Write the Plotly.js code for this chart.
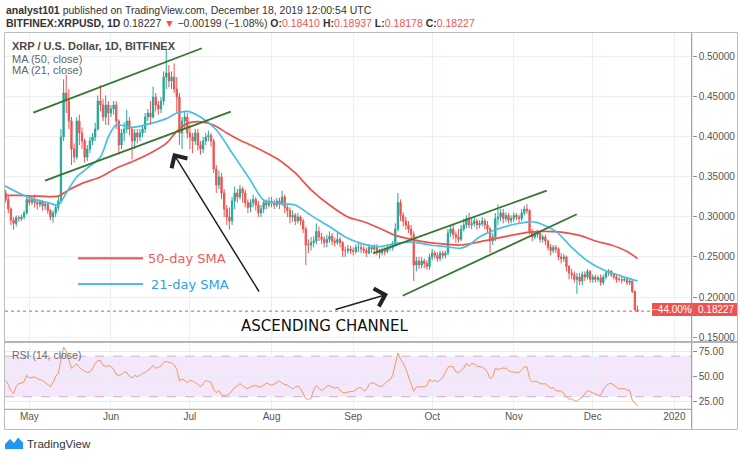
<!DOCTYPE html>
<html><head><meta charset="utf-8">
<script src="https://cdn.plot.ly/plotly-3.0.1.min.js"></script>
<style>html,body{margin:0;padding:0;background:#fff;}#chart{width:740px;height:457px;}</style>
</head><body><div id="chart"></div>
<script>
// ---- data (XRP/USD daily, Bitfinex) ----
const startDate = '2019-04-22';
const opens = [
.330,.322,.310,.296,.292,.299,.298,.300,.305,
.322,.318,.322,.318,.316,.319,.314,.316,.308,.300,
.305,.312,.320,.400,.455,.445,.420,.385,.375,.420,
.405,.395,.375,.385,.395,.400,.410,.445,.440,.425,
.440,.430,.435,.440,.420,.390,.405,.410,.420,.410,
.395,.405,.400,.405,.410,.425,.430,.425,.450,.440,
.435,.445,.475,.480,.470,.475,.460,.450,.405,.420,
.425,.405,.400,.395,.405,.390,.385,.395,.400,.402,
.395,.360,.340,.350,.330,.310,.300,.295,.320,.330,
.325,.335,.330,.318,.312,.318,.322,.315,.305,.310,
.318,.315,.320,.318,.315,.320,.316,.325,.312,.308,
.300,.302,.295,.300,.295,.285,.265,.265,.268,.270,
.282,.275,.272,.268,.272,.276,.270,.268,.272,.268,
.258,.258,.260,.258,.257,.262,.262,.260,.258,.255,
.262,.260,.262,.258,.255,.258,.257,.262,.262,.265,
.285,.318,.302,.295,.290,.285,.278,.240,.245,.240,
.245,.242,.238,.250,.255,.252,.248,.255,.252,.255,
.280,.285,.278,.275,.272,.285,.290,.298,.290,.292,
.295,.290,.292,.295,.290,.285,.270,.275,.298,.300,
.305,.298,.302,.296,.298,.302,.300,.298,.305,.310,
.308,.282,.275,.278,.280,.272,.275,.270,.262,.258,
.262,.260,.250,.248,.250,.238,.230,.228,.222,.225,
.220,.228,.225,.232,.222,.225,.222,.224,.218,.225,
.230,.232,.228,.225,.222,.222,.221,.222,.218,.220,
.207,.1841];
const highs = [
.334,.326,.312,.300,.302,.302,.303,.308,.326,
.326,.325,.328,.322,.322,.321,.320,.318,.310,.308,
.316,.326,.410,.472,.478,.460,.425,.392,.425,.428,
.412,.398,.390,.400,.405,.418,.452,.465,.448,.452,
.445,.440,.445,.445,.422,.410,.418,.434,.425,.412,
.410,.410,.410,.415,.430,.435,.445,.463,.455,.445,
.450,.482,.509,.490,.482,.492,.475,.455,.425,.432,
.430,.415,.405,.410,.410,.395,.400,.405,.408,.405,
.398,.365,.358,.355,.335,.315,.312,.325,.338,.335,
.340,.338,.334,.322,.322,.328,.325,.320,.315,.322,
.322,.325,.325,.322,.324,.324,.333,.328,.315,.312,
.308,.305,.305,.302,.298,.288,.272,.275,.276,.292,
.288,.280,.276,.278,.282,.280,.274,.280,.275,.270,
.263,.265,.264,.262,.266,.268,.266,.264,.262,.266,
.265,.266,.266,.260,.262,.262,.266,.266,.270,.292,
.330,.322,.306,.300,.295,.290,.282,.250,.250,.250,
.248,.246,.254,.260,.258,.256,.258,.258,.258,.285,
.290,.290,.282,.285,.290,.298,.302,.305,.298,.300,
.298,.296,.300,.298,.295,.288,.280,.305,.316,.310,
.310,.306,.305,.302,.306,.305,.303,.310,.314,.316,
.310,.285,.282,.284,.282,.278,.278,.272,.266,.265,
.265,.262,.255,.254,.252,.240,.235,.232,.230,.230,
.232,.232,.235,.234,.228,.228,.227,.228,.228,.233,
.235,.234,.230,.228,.225,.225,.225,.224,.222,.221,
.208,.18937];
const lows = [
.318,.305,.290,.284,.288,.294,.295,.297,.303,
.314,.315,.312,.309,.312,.308,.309,.304,.296,.293,
.300,.308,.318,.395,.430,.410,.365,.368,.372,.390,
.385,.368,.370,.380,.390,.395,.408,.432,.420,.415,
.415,.425,.428,.410,.378,.385,.395,.405,.402,.372,
.385,.392,.395,.400,.405,.420,.415,.423,.432,.428,
.430,.440,.460,.462,.460,.455,.430,.390,.385,.410,
.398,.385,.380,.390,.383,.378,.380,.390,.395,.388,
.355,.330,.335,.322,.300,.290,.284,.290,.310,.318,
.322,.318,.312,.305,.306,.312,.308,.300,.300,.305,
.310,.312,.312,.310,.312,.310,.314,.305,.300,.292,
.294,.290,.292,.290,.280,.240,.255,.258,.262,.266,
.270,.266,.262,.262,.268,.265,.263,.265,.262,.250,
.250,.254,.254,.252,.254,.256,.255,.254,.250,.253,
.255,.256,.252,.248,.252,.252,.255,.258,.258,.263,
.282,.295,.288,.284,.280,.272,.220,.232,.235,.236,
.236,.234,.234,.246,.248,.244,.245,.248,.248,.252,
.275,.272,.268,.268,.270,.282,.286,.286,.285,.288,
.284,.286,.288,.285,.280,.255,.265,.270,.290,.295,
.292,.294,.292,.292,.294,.296,.292,.295,.302,.304,
.278,.270,.272,.274,.268,.268,.265,.258,.252,.255,
.255,.246,.242,.244,.232,.222,.222,.218,.204,.215,
.215,.220,.222,.218,.218,.218,.219,.214,.215,.222,
.226,.225,.222,.218,.219,.217,.219,.215,.215,.205,
.183,.18178];
const closes = [
.322,.310,.296,.292,.299,.298,.300,.305,.322,
.318,.322,.318,.316,.319,.314,.316,.308,.300,.305,
.312,.320,.400,.455,.445,.420,.385,.375,.420,.405,
.395,.375,.385,.395,.400,.410,.445,.440,.425,.440,
.430,.435,.440,.420,.390,.405,.410,.420,.410,.395,
.405,.400,.405,.410,.425,.430,.425,.450,.440,.435,
.445,.475,.480,.470,.475,.460,.450,.405,.420,.425,
.405,.400,.395,.405,.390,.385,.395,.400,.402,.395,
.360,.340,.350,.330,.310,.300,.295,.320,.330,.325,
.335,.330,.318,.312,.318,.322,.315,.305,.310,.318,
.315,.320,.318,.315,.320,.316,.325,.312,.308,.300,
.302,.295,.300,.295,.285,.265,.265,.268,.270,.282,
.275,.272,.268,.272,.276,.270,.268,.272,.268,.258,
.258,.260,.258,.257,.262,.262,.260,.258,.255,.262,
.260,.262,.258,.255,.258,.257,.262,.262,.265,.285,
.318,.302,.295,.290,.285,.278,.240,.245,.240,.245,
.242,.238,.250,.255,.252,.248,.255,.252,.255,.280,
.285,.278,.275,.272,.285,.290,.298,.290,.292,.295,
.290,.292,.295,.290,.285,.270,.275,.298,.300,.305,
.298,.302,.296,.298,.302,.300,.298,.305,.310,.308,
.282,.275,.278,.280,.272,.275,.270,.262,.258,.262,
.260,.250,.248,.250,.238,.230,.228,.222,.225,.220,
.228,.225,.232,.222,.225,.222,.224,.218,.225,.230,
.232,.228,.225,.222,.222,.221,.222,.218,.220,.207,
.1841,.18227];
const rsiValues = [
46,42,36,33,40,43,43.5,45,51,
48.5,49,49.5,48,47,46,44,42,40,44,
50,53,66,79,75,66,58,60,62.5,59,
57,55,54,54.5,58,63,65.5,66,61,60,
60.5,60,57,52,51,52,54.5,54,50,48.5,
51,50,51,53,54,56,58,61,58,59,
60.5,64,65,64,63.5,61.5,57,45.5,47.5,46,
44,46,45.5,44,42,40,43,46,45,44.5,
37,34,36,32,31,31.5,33,36.5,39,41,
43,41,39,38,40,40.5,41,39.8,39.8,41.5,
43.5,42.5,41.5,42.5,44,45.5,43.5,42,41.5,39,
37.5,39.8,40.5,38,33,28,27.4,28.5,37,41,
38.5,36,38,40.5,41,39.5,38.3,39.5,36.5,33.9,
33.9,34.5,35.2,35,37.5,39,38.8,36,37,42,
43.8,43.2,41.5,40.3,40.3,43,45.5,46.7,51,62,
73,67,63,57.5,51,42.5,35.5,39.5,39.8,39.8,
39.8,41,47,45,46.3,44.5,47,48.6,54,59,
60,59.5,54.5,54,55.7,58.5,63,60,62.8,62.3,
60.2,59.6,59.1,57.5,54,48,49.7,57.9,57,57.5,
58.4,58,55.8,54.6,54.5,53.7,53.8,56.8,59.4,59.5,
48,44.5,45.2,44.8,43,42.6,42.8,40.5,38.4,39.2,
35.8,35.8,35.5,33,30.2,27.5,28,26.2,25.4,28,
29.5,33.3,36.3,35,34,32.9,31.6,31.5,37.4,40.6,
42.7,43.2,41.1,39.3,37.7,37.9,38.2,36.6,36.5,27,
23.5,21.5];
const ma50Dates = ['2019-04-21','2019-04-27','2019-05-05','2019-05-12','2019-05-15','2019-05-21','2019-05-28','2019-06-03','2019-06-09','2019-06-16','2019-06-22','2019-06-26','2019-06-30','2019-07-05','2019-07-10','2019-07-15','2019-07-20','2019-07-24','2019-07-29','2019-08-04','2019-08-10','2019-08-16','2019-08-23','2019-08-30','2019-09-05','2019-09-11','2019-09-17','2019-09-23','2019-09-30','2019-10-06','2019-10-12','2019-10-19','2019-10-25','2019-10-31','2019-11-07','2019-11-13','2019-11-19','2019-11-26','2019-12-02','2019-12-08','2019-12-14','2019-12-18'];
const ma50Values = [.327,.327,.326,.326,.332,.342,.350,.361,.369,.380,.392,.407,.417,.419,.415,.405,.396,.390,.382,.371,.355,.334,.315,.300,.294,.286,.277,.272,.268,.266,.265,.269,.273,.277,.281,.282,.281,.277,.270,.265,.257,.248];
const ma21Dates = ['2019-04-21','2019-04-27','2019-05-02','2019-05-09','2019-05-12','2019-05-15','2019-05-19','2019-05-23','2019-05-28','2019-05-31','2019-06-03','2019-06-09','2019-06-16','2019-06-22','2019-06-26','2019-06-30','2019-07-05','2019-07-11','2019-07-17','2019-07-24','2019-07-29','2019-08-04','2019-08-10','2019-08-16','2019-08-23','2019-08-29','2019-09-04','2019-09-11','2019-09-17','2019-09-23','2019-09-30','2019-10-06','2019-10-12','2019-10-15','2019-10-19','2019-10-25','2019-10-31','2019-11-07','2019-11-10','2019-11-17','2019-11-23','2019-11-29','2019-12-05','2019-12-11','2019-12-18'];
const ma21Values = [.340,.330,.323,.317,.315,.330,.350,.361,.375,.400,.415,.412,.417,.423,.430,.432,.425,.409,.380,.346,.321,.317,.315,.302,.288,.275,.267,.263,.267,.269,.265,.263,.261,.265,.275,.284,.290,.294,.293,.282,.262,.245,.234,.227,.220];
// drawn channel lines (date, price end points)
const channelX = [
  ['2019-05-02 12:00','2019-07-05 12:00'],
  ['2019-05-06 23:00','2019-07-16 12:00'],
  ['2019-09-08 14:00','2019-11-13 12:00'],
  ['2019-09-19 19:00','2019-11-24 22:00']];
const channelY = [[0.4304,0.5109],[0.3454,0.4316],[0.2546,0.3329],[0.2016,0.3034]];
const arrowHeads = [['2019-06-24 14:00',0.380],['2019-09-14 05:00',0.2037]];
const arrowTails = [['2019-07-27 14:00',0.205],['2019-08-24 17:00',0.1838]];
const monthTicks = ['2019-05-01','2019-06-01','2019-07-01','2019-08-01','2019-09-01','2019-10-01','2019-11-01','2019-12-01','2020-01-01'];
const monthLabels = ['May','Jun','Jul','Aug','Sep','Oct','Nov','Dec','2020'];
const priceTicks = [0.15,0.20,0.25,0.30,0.35,0.40,0.45,0.50];
const rsiTicks = [25,50,75];
const rsiBand = [30,70];
const lastClose = 0.18227;
const changeLabel = '\u221244.00%';

// ---- build ----
function dayList(start,n){const t0=Date.parse(start+'T00:00:00Z');const o=[];for(let i=0;i<n;i++){o.push(new Date(t0+i*86400000).toISOString().slice(0,10));}return o;}
const dates = dayList(startDate, closes.length);
const W=740,H=457;
const px=v=>v/W, py=v=>1-v/H;
const GREEN='#26a69a', RED='#ef5350';

const traces=[{
  type:'candlestick', x:dates, open:opens, high:highs, low:lows, close:closes,
  xaxis:'x', yaxis:'y', whiskerwidth:0,
  increasing:{line:{color:GREEN,width:1},fillcolor:GREEN},
  decreasing:{line:{color:RED,width:1},fillcolor:RED},
  hoverinfo:'skip'
},{
  type:'scatter',mode:'lines',x:ma50Dates,y:ma50Values,xaxis:'x',yaxis:'y',
  line:{color:'#f0504c',width:1.7,shape:'spline',smoothing:0.8},hoverinfo:'skip'
},{
  type:'scatter',mode:'lines',x:ma21Dates,y:ma21Values,xaxis:'x',yaxis:'y',
  line:{color:'#46c0e2',width:1.7,shape:'spline',smoothing:0.8},hoverinfo:'skip'
}];
for(let i=0;i<channelX.length;i++){
  traces.push({type:'scatter',mode:'lines',x:channelX[i],y:channelY[i],xaxis:'x',yaxis:'y',
    line:{color:'#33772f',width:1.8},hoverinfo:'skip'});
}
traces.push({type:'scatter',mode:'lines',x:dates,y:rsiValues,xaxis:'x',yaxis:'y2',
  line:{color:'#f7955c',width:1},hoverinfo:'skip'});

const FONT='Liberation Sans, Arial, sans-serif';
function txt(x,y,t,opt){return Object.assign({xref:'paper',yref:'paper',x:px(x),y:py(y),text:t,showarrow:false,xanchor:'left',yanchor:'middle',font:{family:FONT,size:10.5,color:'#333'}},opt||{});}
const redSpan=s=>'<span style="color:#ef5350">'+s+'</span>';
const annotations=[
  txt(4,9.5,'<b>analyst101</b> published on TradingView.com, December 18, 2019 12:00:54 UTC'),
  txt(4,23,'<b>BITFINEX:XRPUSD, 1D</b> 0.18227 '+redSpan('\u25BC')+' \u22120.00199 (\u22121.08%) <b>O:</b>'+redSpan('0.18410')+' <b>H:</b>'+redSpan('0.18937')+' <b>L:</b>'+redSpan('0.18178')+' <b>C:</b>'+redSpan('0.18227')),
  txt(10,45.5,'<b>XRP / U.S. Dollar, 1D, BITFINEX</b>',{font:{family:FONT,size:11,color:'#4a4a4a'}}),
  txt(10,59,'MA (50, close)',{font:{family:FONT,size:11,color:'#666'}}),
  txt(10,70,'MA (21, close)',{font:{family:FONT,size:11,color:'#666'}}),
  txt(10,355,'RSI (14, close)',{font:{family:FONT,size:10.5,color:'#6a6a6a'}}),
  txt(146,258.5,'50-day SMA',{font:{family:'DejaVu Sans, sans-serif',size:13,color:'#f05a58'}}),
  txt(149,284.5,'21-day SMA',{font:{family:'DejaVu Sans, sans-serif',size:13,color:'#2c9fe6'}}),
  txt(324,326,'ASCENDING CHANNEL',{xanchor:'center',font:{family:'DejaVu Sans, sans-serif',size:15,color:'#111'}}),
  txt(672,309.5,changeLabel,{xanchor:'center',font:{family:FONT,size:10,color:'#fff'}}),
  txt(716,309.5,lastClose.toFixed(5),{xanchor:'center',font:{family:FONT,size:10,color:'#fff'}}),
  txt(25,443.5,'TradingView',{font:{family:FONT,size:11.5,color:'#333'}})
];
for(let i=0;i<arrowHeads.length;i++){
  annotations.push({xref:'x',yref:'y',axref:'x',ayref:'y',x:arrowHeads[i][0],y:arrowHeads[i][1],
    ax:arrowTails[i][0],ay:arrowTails[i][1],text:'',showarrow:true,arrowhead:4,arrowsize:2.4,arrowwidth:1.5,arrowcolor:'#222'});
}

const L=4.5,R=737.5,AX=691.7,TOP=32.5,SEP=342,XB=409.3,BOT=429.5;
const shapes=[
  {type:'rect',xref:'paper',yref:'y2',x0:px(5),x1:px(AX),y0:rsiBand[0],y1:rsiBand[1],fillcolor:'#f4e7fb',line:{width:0},layer:'below'},
  {type:'line',xref:'paper',yref:'y2',x0:px(5),x1:px(AX),y0:rsiBand[0],y1:rsiBand[0],line:{color:'#c8b2cc',width:1,dash:'dash'}},
  {type:'line',xref:'paper',yref:'y2',x0:px(5),x1:px(AX),y0:rsiBand[1],y1:rsiBand[1],line:{color:'#c8b2cc',width:1,dash:'dash'}},
  {type:'line',xref:'paper',yref:'y',x0:px(5),x1:px(652),y0:lastClose,y1:lastClose,line:{color:RED,width:1,dash:'dot'}},
  {type:'rect',xref:'paper',yref:'paper',x0:px(652),x1:px(R),y0:py(316),y1:py(303),fillcolor:RED,line:{width:0}},
  {type:'line',xref:'paper',yref:'paper',x0:px(AX),x1:px(AX),y0:py(TOP),y1:py(BOT),line:{color:'#8f8f8f',width:1}},
  {type:'rect',xref:'paper',yref:'paper',x0:px(L),x1:px(R),y0:py(BOT),y1:py(TOP),line:{color:'#bdbdbd',width:1}},
  {type:'line',xref:'paper',yref:'paper',x0:px(L),x1:px(R),y0:py(SEP),y1:py(SEP),line:{color:'#b5b5b5',width:2}},
  {type:'line',xref:'paper',yref:'paper',x0:px(L),x1:px(AX),y0:py(XB),y1:py(XB),line:{color:'#9a9a9a',width:1}},
  {type:'line',xref:'paper',yref:'paper',x0:px(78),x1:px(143),y0:py(258.3),y1:py(258.3),line:{color:'#f0504c',width:2}},
  {type:'line',xref:'paper',yref:'paper',x0:px(78),x1:px(143),y0:py(284),y1:py(284),line:{color:'#46c0e2',width:2}},
  {type:'path',xref:'paper',yref:'paper',
    path:'M'+px(5)+','+py(449)+' L'+px(5)+','+py(444)+' L'+px(10)+','+py(439)+' L'+px(14)+','+py(443)+' L'+px(18)+','+py(437.5)+' L'+px(23)+','+py(442.5)+' L'+px(23)+','+py(449)+' Z',
    fillcolor:'#2196f3',line:{width:0}}
];

const layout={
  width:W,height:H,margin:{l:0,r:0,t:0,b:0},paper_bgcolor:'#fff',plot_bgcolor:'rgba(0,0,0,0)',showlegend:false,
  font:{family:FONT,size:10,color:'#555'},hovermode:false,
  xaxis:{type:'date',range:['2019-04-21 18:00','2020-01-07 14:00'],domain:[px(5),px(AX)],anchor:'y2',
    tickmode:'array',tickvals:monthTicks,ticktext:monthLabels,showgrid:true,gridcolor:'#ebf0f4',gridwidth:1,
    zeroline:false,showline:false,ticks:'',tickfont:{family:FONT,size:10,color:'#555'},rangeslider:{visible:false},fixedrange:true},
  yaxis:{domain:[py(SEP),py(TOP)],range:[0.14375,0.5306],side:'right',anchor:'x',tickmode:'array',tickvals:priceTicks,
    tickformat:'.5f',showgrid:true,gridcolor:'#ebf0f4',zeroline:false,showline:false,ticks:'outside',ticklen:4,tickcolor:'#8f8f8f',
    tickfont:{family:FONT,size:10,color:'#555'},fixedrange:true},
  yaxis2:{domain:[py(XB),py(SEP)],range:[17.6,84],side:'right',anchor:'x',tickmode:'array',tickvals:rsiTicks,
    tickformat:'.2f',showgrid:true,gridcolor:'#e6ecf2',zeroline:false,showline:false,ticks:'outside',ticklen:4,tickcolor:'#8f8f8f',
    tickfont:{family:FONT,size:10,color:'#555'},fixedrange:true},
  shapes:shapes,annotations:annotations
};
Plotly.newPlot('chart',traces,layout,{staticPlot:true,displayModeBar:false});
</script></body></html>
